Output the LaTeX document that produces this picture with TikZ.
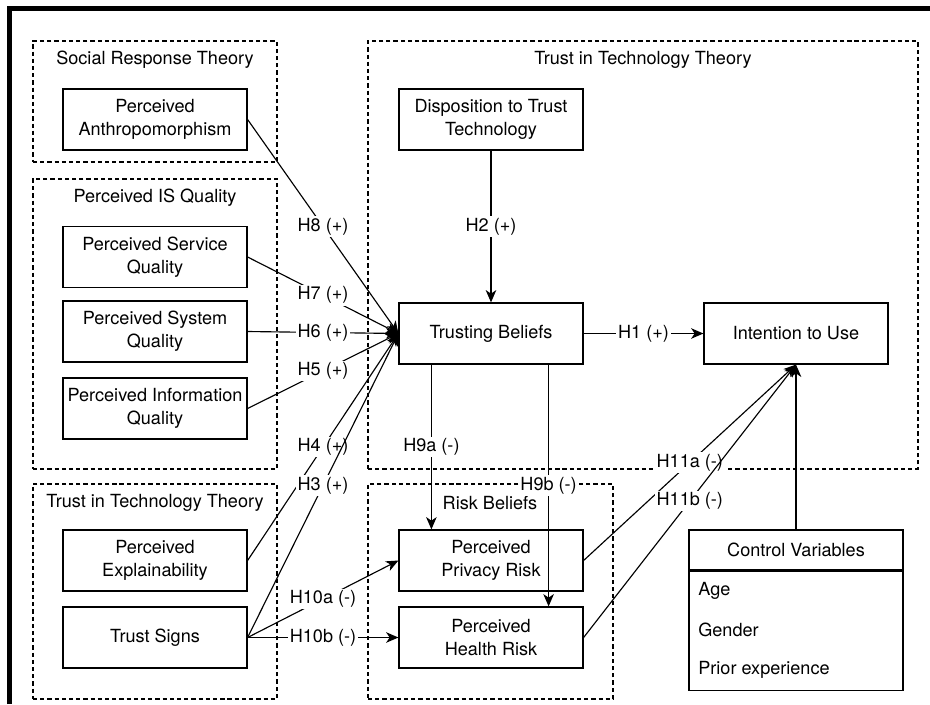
\documentclass[tikz,border=0pt]{standalone}
\usepackage{fontspec}
\setmainfont{TeX Gyre Heros}
\usetikzlibrary{arrows.meta,positioning,fit}

\begin{document}
\begin{tikzpicture}[
    x=0.02cm, y=-0.02cm,
    font=\fontsize{10.3pt}{12.9pt}\selectfont,
    >={Stealth[length=7pt,width=6pt,inset=2pt]},
    block/.style={draw=black, line width=0.7pt, rectangle, minimum width=3.68cm, minimum height=1.22cm, align=center, inner sep=1pt},
    group/.style={draw=black, line width=0.6pt, dash pattern=on 2.4pt off 1.7pt, rectangle, inner sep=0pt},
    title/.style={align=center},
    item/.style={anchor=west, inner sep=0pt},
    hyp/.style={fill=white, inner sep=1pt, midway},
    link/.style={->, line width=0.65pt}
]
\useasboundingbox (0,0) rectangle (930,704);
\draw[line width=2.6pt] (9.5,704) -- (9.5,8.5) -- (930,8.5);

\node[group, fit={(33,41) (277,162)}] (social) {};
\node[title] (socialtitle) at (155,60) {Social Response Theory};
\node[group, fit={(33,179) (277,469)}] (isq) {};
\node[title] (isqtitle) at (155,198) {Perceived IS Quality};
\node[group, fit={(33,484) (277,699)}] (ttleft) {};
\node[title] (ttlefttitle) at (155,503) {Trust in Technology Theory};
\node[group, fit={(368,41) (918,469)}] (ttright) {};
\node[title] (ttrighttitle) at (643,60) {Trust in Technology Theory};
\node[group, fit={(368,484) (613,699)}] (risk) {};
\node[title] (risktitle) at (490,503) {Risk Beliefs};

\node[block] (anth) at (155,119.5) {Perceived\\Anthropomorphism};
\node[block] (servq) at (155,257) {Perceived Service\\Quality};
\node[block] (sysq) at (155,331.5) {Perceived System\\Quality};
\node[block] (infoq) at (155,408.5) {Perceived Information\\Quality};
\node[block] (expl) at (155,560.5) {Perceived\\Explainability};
\node[block] (signs) at (155,637.5) {Trust Signs};
\node[block] (disp) at (491,119.5) {Disposition to Trust\\Technology};
\node[block] (tb) at (491,333.5) {Trusting Beliefs};
\node[block] (itu) at (796,333.5) {Intention to Use};
\node[block] (prisk) at (491,560.5) {Perceived\\Privacy Risk};
\node[block] (hrisk) at (491,637.5) {Perceived\\Health Risk};

\node[block, minimum width=4.28cm, minimum height=0.8cm] (ctrlhead) at (796,550) {Control Variables};
\node[block, minimum width=4.28cm, minimum height=2.38cm, anchor=north] (ctrlbody) at (ctrlhead.south) {};
\node[item] (age) at (698,591) {Age};
\node[item] (gender) at (698,630) {Gender};
\node[item] (prior) at (698,670) {Prior experience};

\draw[link] (anth.east) -- node[hyp] {H8 (+)} (tb.west);
\draw[link] (servq.east) -- node[hyp] {H7 (+)} (tb.west);
\draw[link] (sysq.east) -- node[hyp] {H6 (+)} (tb.west);
\draw[link] (infoq.east) -- node[hyp] {H5 (+)} (tb.west);
\draw[link] (expl.east) -- node[hyp] {H4 (+)} (tb.west);
\draw[link] (signs.east) -- node[hyp] {H3 (+)} (tb.west);
\draw[link] (signs.east) -- node[hyp] {H10a (-)} (prisk.west);
\draw[link] (signs.east) -- node[hyp] {H10b (-)} (hrisk.west);
\draw[link] (disp.south) -- node[hyp] {H2 (+)} (tb.north);
\draw[link] (tb.east) -- node[hyp] {H1 (+)} (itu.west);
\draw[link] ([xshift=0.66cm]tb.south west) -- node[hyp] {H9a (-)} ([xshift=0.66cm]prisk.north west);
\draw[link] ([xshift=-0.7cm]tb.south east) -- node[hyp] {H9b (-)} ([xshift=-0.7cm]hrisk.north east);
\draw[link] (prisk.east) -- node[hyp] {H11a (-)} (itu.south);
\draw[link] (hrisk.east) -- node[hyp] {H11b (-)} (itu.south);
\draw[link] (ctrlhead.north) -- (itu.south);

\end{tikzpicture}
\end{document}
